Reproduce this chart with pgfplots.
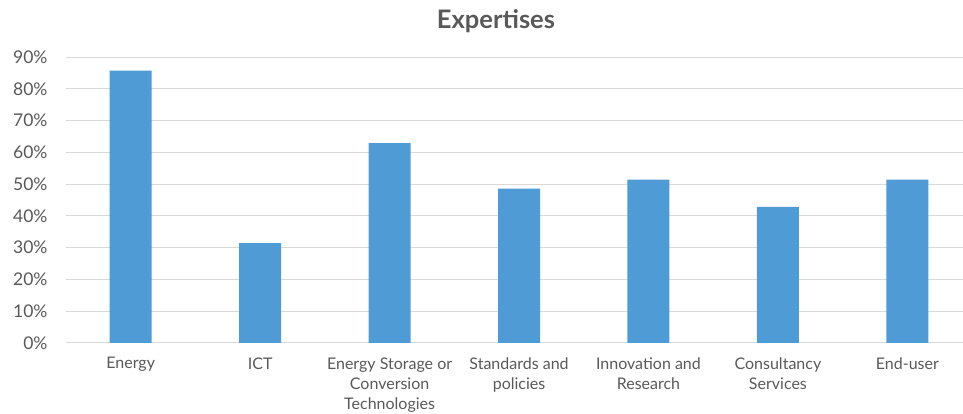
\documentclass[border=0pt]{standalone}
\usepackage{pgfplots}
\pgfplotsset{compat=1.18}
\usepackage{fontspec}
\setmainfont{Lato}
\definecolor{barblue}{RGB}{79,155,213}
\definecolor{txtgray}{RGB}{89,89,89}
\definecolor{gridgray}{RGB}{217,217,217}
\begin{document}
\begin{tikzpicture}
\path[use as bounding box] (0,0) rectangle (963pt,414pt);
\node[font=\fontsize{25.5}{29}\selectfont\bfseries, text=txtgray] at (496pt,393pt) {Expertises};
\begin{axis}[
  at={(66pt,71pt)}, anchor=south west,
  scale only axis, width=897pt, height=286pt,
  ymin=0, ymax=90, xmin=-0.5, xmax=6.43,
  ytick={0,10,...,90},
  yticklabel={\pgfmathprintnumber{\tick}\%},
  /pgf/number format/assume math mode=true,
  ymajorgrids, grid style={gridgray, line width=1pt},
  axis y line*=left,
  y axis line style={draw=none},
  axis x line*=bottom,
  x axis line style={gridgray, line width=1pt, -},
  xtick={0,...,6},
  xtick style={draw=none},
  ytick style={draw=none},
  xticklabels={Energy, ICT, {Energy Storage or\\Conversion\\Technologies}, {Standards and\\policies}, {Innovation and\\Research}, {Consultancy\\Services}, End-user},
  xticklabel style={font=\fontsize{16}{20}\selectfont, text=txtgray, align=center, anchor=north, yshift=-11pt},
  yticklabel style={font=\fontsize{17.5}{20}\selectfont, text=txtgray, xshift=-15pt},
  clip=false,
]
\addplot[ybar, bar width=42pt, fill=barblue, draw=none] coordinates {
 (0,85.71) (1,31.43) (2,62.86) (3,48.57) (4,51.43) (5,42.86) (6,51.43)};
\end{axis}
\end{tikzpicture}
\end{document}
